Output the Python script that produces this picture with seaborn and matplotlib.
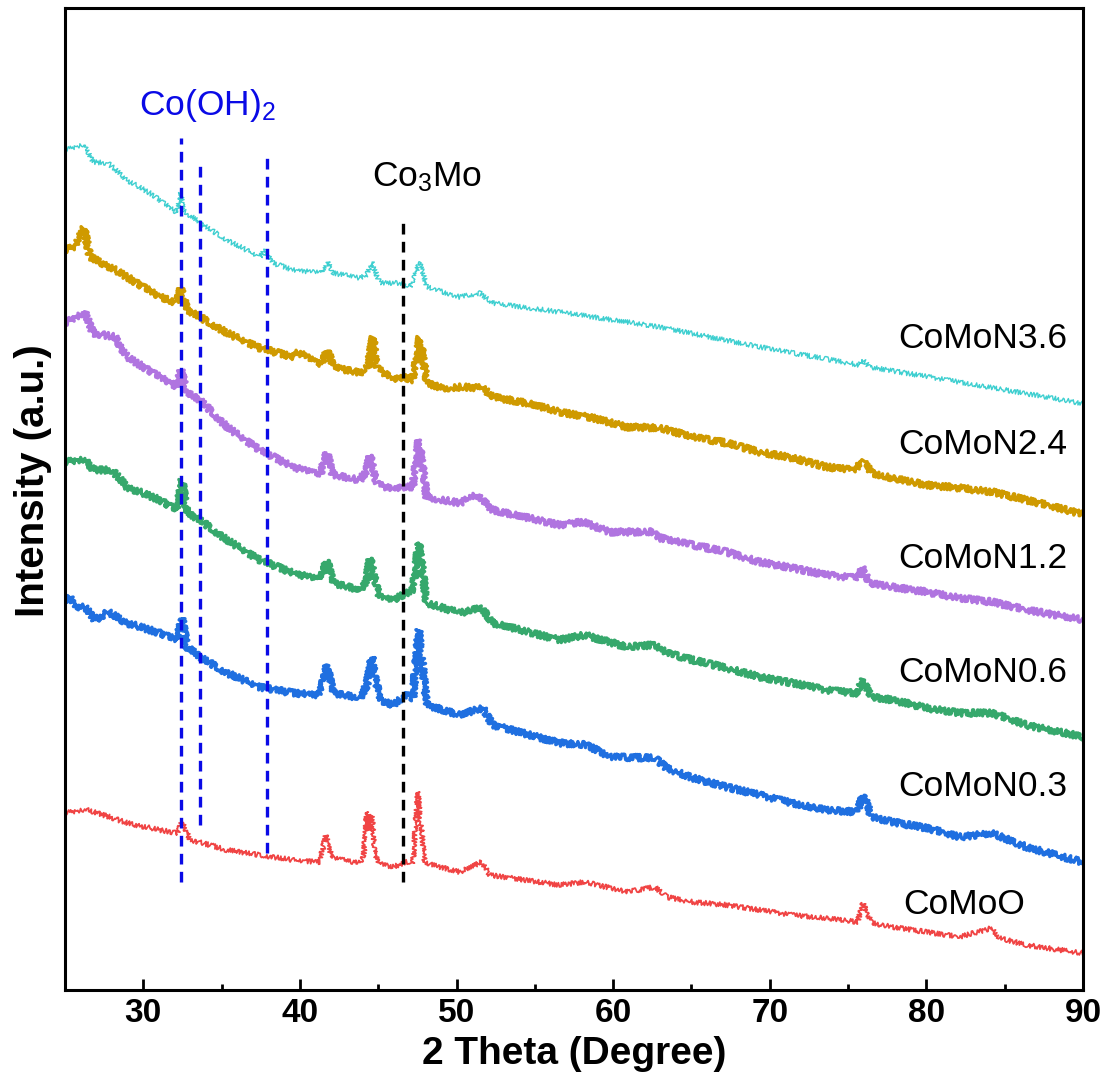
import matplotlib
matplotlib.use("Agg")
import matplotlib.pyplot as plt
import seaborn as sns
import pandas as pd

# ---------------- data ----------------
x_n36 = [25.0, 26.21, 26.79, 27.74, 28.96, 30.62, 32.15, 32.40, 32.53, 33.62, 35.34, 37.44, 37.76, 38.27,
         39.55, 41.46, 41.78, 42.10, 43.83, 44.27, 44.59, 45.10, 46.57, 47.02, 47.66, 48.10, 50.21, 51.48,
         52.31, 56.59, 62.97, 69.35, 75.73, 75.93, 76.37, 82.12, 89.46, 90.0]
y_n36 = [840, 845, 828, 827, 810, 795, 777, 797, 780, 767, 750, 733, 740, 727, 720, 717, 728, 717, 712,
         715, 728, 707, 707, 703, 728, 703, 693, 697, 687, 678, 663, 643, 625, 630, 623, 608, 588, 586]

x_n24 = [25.0, 25.64, 26.21, 26.60, 27.87, 28.96, 31.06, 32.15, 32.40, 32.79, 33.62, 35.34, 37.44, 39.55,
         39.87, 41.27, 41.78, 42.10, 43.83, 44.34, 44.66, 44.91, 45.93, 46.57, 47.21, 47.66, 48.10, 49.12,
         50.40, 51.68, 52.31, 54.48, 56.59, 58.70, 60.87, 62.97, 65.08, 67.25, 69.35, 71.46, 73.63, 75.29,
         75.99, 76.56, 77.84, 80.01, 82.12, 84.22, 86.39, 89.46, 90.0]
y_n24 = [740, 743, 762, 733, 723, 713, 693, 687, 702, 680, 673, 657, 642, 633, 638, 625, 640, 623, 617,
         623, 653, 623, 610, 613, 610, 653, 607, 602, 603, 602, 593, 587, 578, 572, 563, 562, 553, 547,
         538, 532, 523, 520, 528, 517, 512, 505, 502, 498, 490, 478, 477]

x_n12 = [25.0, 26.28, 26.79, 28.19, 28.96, 31.06, 32.15, 32.40, 32.79, 33.62, 35.34, 37.44, 39.55, 41.27,
         41.72, 42.10, 43.83, 44.27, 44.46, 44.91, 45.93, 46.57, 47.21, 47.59, 48.10, 50.21, 51.29, 52.31,
         56.59, 58.06, 59.78, 62.52, 62.97, 65.08, 67.25, 69.35, 71.46, 73.63, 75.61, 75.93, 76.37, 77.84,
         80.01, 82.12, 84.22, 86.39, 89.46, 90.0]
y_n12 = [667, 677, 657, 653, 633, 613, 603, 620, 597, 590, 563, 540, 523, 515, 537, 515, 510, 520, 535,
         507, 500, 503, 503, 550, 493, 487, 495, 480, 465, 468, 458, 458, 452, 445, 438, 428, 422, 415,
         412, 423, 407, 403, 398, 392, 388, 380, 372, 370]

x_n06 = [25.0, 26.28, 26.79, 28.00, 28.96, 31.06, 32.15, 32.47, 32.79, 33.62, 35.34, 37.44, 39.55, 41.27,
         41.72, 42.10, 43.83, 44.27, 44.46, 45.10, 45.93, 46.83, 47.21, 47.59, 48.10, 50.21, 51.61, 52.31,
         56.59, 58.18, 60.87, 62.65, 63.42, 65.08, 67.25, 69.35, 71.46, 73.63, 75.54, 75.93, 76.50, 77.84,
         80.01, 82.12, 84.16, 86.39, 89.46, 90.0]
y_n06 = [528, 530, 520, 520, 503, 490, 480, 510, 477, 470, 450, 430, 417, 410, 430, 407, 400, 410, 432,
         393, 390, 397, 400, 447, 387, 377, 382, 367, 350, 355, 343, 345, 337, 330, 322, 313, 307, 300,
         297, 310, 293, 290, 282, 277, 277, 265, 255, 253]

x_n03 = [25.0, 25.32, 25.77, 26.28, 26.91, 27.74, 28.96, 31.06, 32.15, 32.47, 32.79, 33.62, 35.34, 37.44,
         39.55, 41.27, 41.72, 42.10, 43.83, 44.27, 44.59, 45.10, 45.93, 46.83, 47.21, 47.59, 48.10, 50.21,
         51.68, 52.31, 56.59, 58.31, 59.78, 62.65, 63.42, 65.08, 67.25, 69.35, 71.46, 73.63, 75.54, 75.99,
         76.50, 77.84, 80.01, 82.12, 84.16, 86.39, 89.46, 90.0]
y_n03 = [390, 392, 382, 383, 370, 378, 367, 357, 350, 372, 343, 333, 317, 303, 297, 295, 325, 297, 292,
         305, 333, 290, 285, 295, 292, 360, 285, 275, 282, 265, 247, 245, 233, 232, 222, 212, 203, 195,
         187, 180, 178, 195, 173, 168, 162, 153, 157, 143, 130, 128]

x_o = [25.0, 26.40, 27.87, 28.96, 31.06, 32.15, 32.47, 32.98, 34.25, 35.34, 37.44, 39.55, 41.27, 41.66,
       42.04, 43.83, 44.08, 44.27, 44.40, 44.59, 44.78, 44.97, 45.93, 46.83, 47.21, 47.53, 47.97, 50.21,
       51.61, 52.12, 56.59, 58.18, 60.87, 62.65, 63.42, 65.08, 67.25, 69.35, 71.46, 73.63, 75.61, 75.93,
       76.50, 77.84, 80.01, 82.12, 84.16, 84.67, 86.39, 89.46, 90.0]
y_o = [177, 180, 173, 167, 160, 157, 168, 150, 145, 140, 135, 130, 128, 155, 132, 127, 135, 178, 160,
       175, 140, 127, 123, 128, 126, 198, 127, 118, 128, 115, 105, 108, 98, 103, 93, 88, 85, 80, 75, 72,
       68, 87, 67, 63, 58, 53, 62, 52, 45, 38, 37]

sample_names = ["CoMoN3.6", "CoMoN2.4", "CoMoN1.2", "CoMoN0.6", "CoMoN0.3", "CoMoO"]
label_x = [89.0, 89.0, 89.0, 89.0, 89.0, 82.4]
label_y = [652, 546, 432, 317, 203, 85]

cooh_x = [32.4, 33.6, 37.88]
cooh_ymin = [108, 165, 137]
cooh_ymax = [852, 828, 832]
co3mo_x = 46.57
co3mo_yrange = [108, 774]

xticks = [30, 40, 50, 60, 70, 80, 90]

# ---------------- style ----------------
sns.set_style("ticks")
plt.rcParams["font.family"] = ["Liberation Sans", "DejaVu Sans"]
plt.rcParams["mathtext.default"] = "regular"
plt.rcParams["text.color"] = "black"
plt.rcParams["axes.labelcolor"] = "black"
plt.rcParams["xtick.color"] = "black"

colors = ["#3ecfd0", "#cf9a00", "#b074e0", "#36a86c", "#1f6fe0", "#f04444"]
widths = [1.0, 2.4, 2.4, 2.4, 2.4, 1.3]

fig = plt.figure(figsize=(11.08, 10.79), dpi=100)
ax = fig.add_axes([65 / 1108, 89 / 1079, 1018 / 1108, 982 / 1079])

series = [(x_n36, y_n36), (x_n24, y_n24), (x_n12, y_n12), (x_n06, y_n06), (x_n03, y_n03), (x_o, y_o)]
for (xs, ys), name, c, lw in zip(series, sample_names, colors, widths):
    df = pd.DataFrame({"x": xs, "y": ys})
    sns.lineplot(data=df, x="x", y="y", ax=ax, color=c, linewidth=lw, sort=False, estimator=None)
    ln = ax.lines[-1]
    ln.set_sketch_params(scale=3.2 if lw > 2 else 2.4, length=1.8, randomness=3)

for xv, y0, y1 in zip(cooh_x, cooh_ymin, cooh_ymax):
    ax.plot([xv, xv], [y0, y1], color="#0a0ae6", lw=2.4, dashes=(3.2, 2.2))
ax.plot([co3mo_x, co3mo_x], co3mo_yrange, color="black", lw=2.4, dashes=(3.2, 2.2))

ax.text(34.1, 885, "Co(OH)$_2$", color="#0a0ae6", fontsize=25.5, ha="center", va="center")
ax.text(48.1, 813, "Co$_3$Mo", color="black", fontsize=25.5, ha="center", va="center")

for name, lx, ly in zip(sample_names, label_x, label_y):
    ha = "right" if name != "CoMoO" else "center"
    ax.text(lx, ly, name, fontsize=25.5, ha=ha, va="center", color="black")

ax.set_xlim(25, 90)
ax.set_ylim(0, 982)
ax.set_xticks(xticks)
ax.set_xticks([35, 45, 55, 65, 75, 85], minor=True)
ax.set_yticks([])
ax.tick_params(axis="x", which="major", direction="in", length=8, width=2, labelsize=24, pad=6,
               top=False, colors="black")
ax.tick_params(axis="x", which="minor", direction="in", length=4, width=2, top=False)
for lab in ax.get_xticklabels():
    lab.set_fontweight("bold")
for sp in ax.spines.values():
    sp.set_linewidth(2.2)
    sp.set_color("black")
    sp.set_visible(True)

ax.set_xlabel("2 Theta (Degree)", fontsize=28, fontweight="bold", labelpad=5, color="black")
ax.set_ylabel("Intensity (a.u.)", fontsize=29, fontweight="bold", color="black")
ax.yaxis.set_label_coords(-13 / 1018, (990 - 481) / 982)

fig.savefig("out.png", dpi=100)
